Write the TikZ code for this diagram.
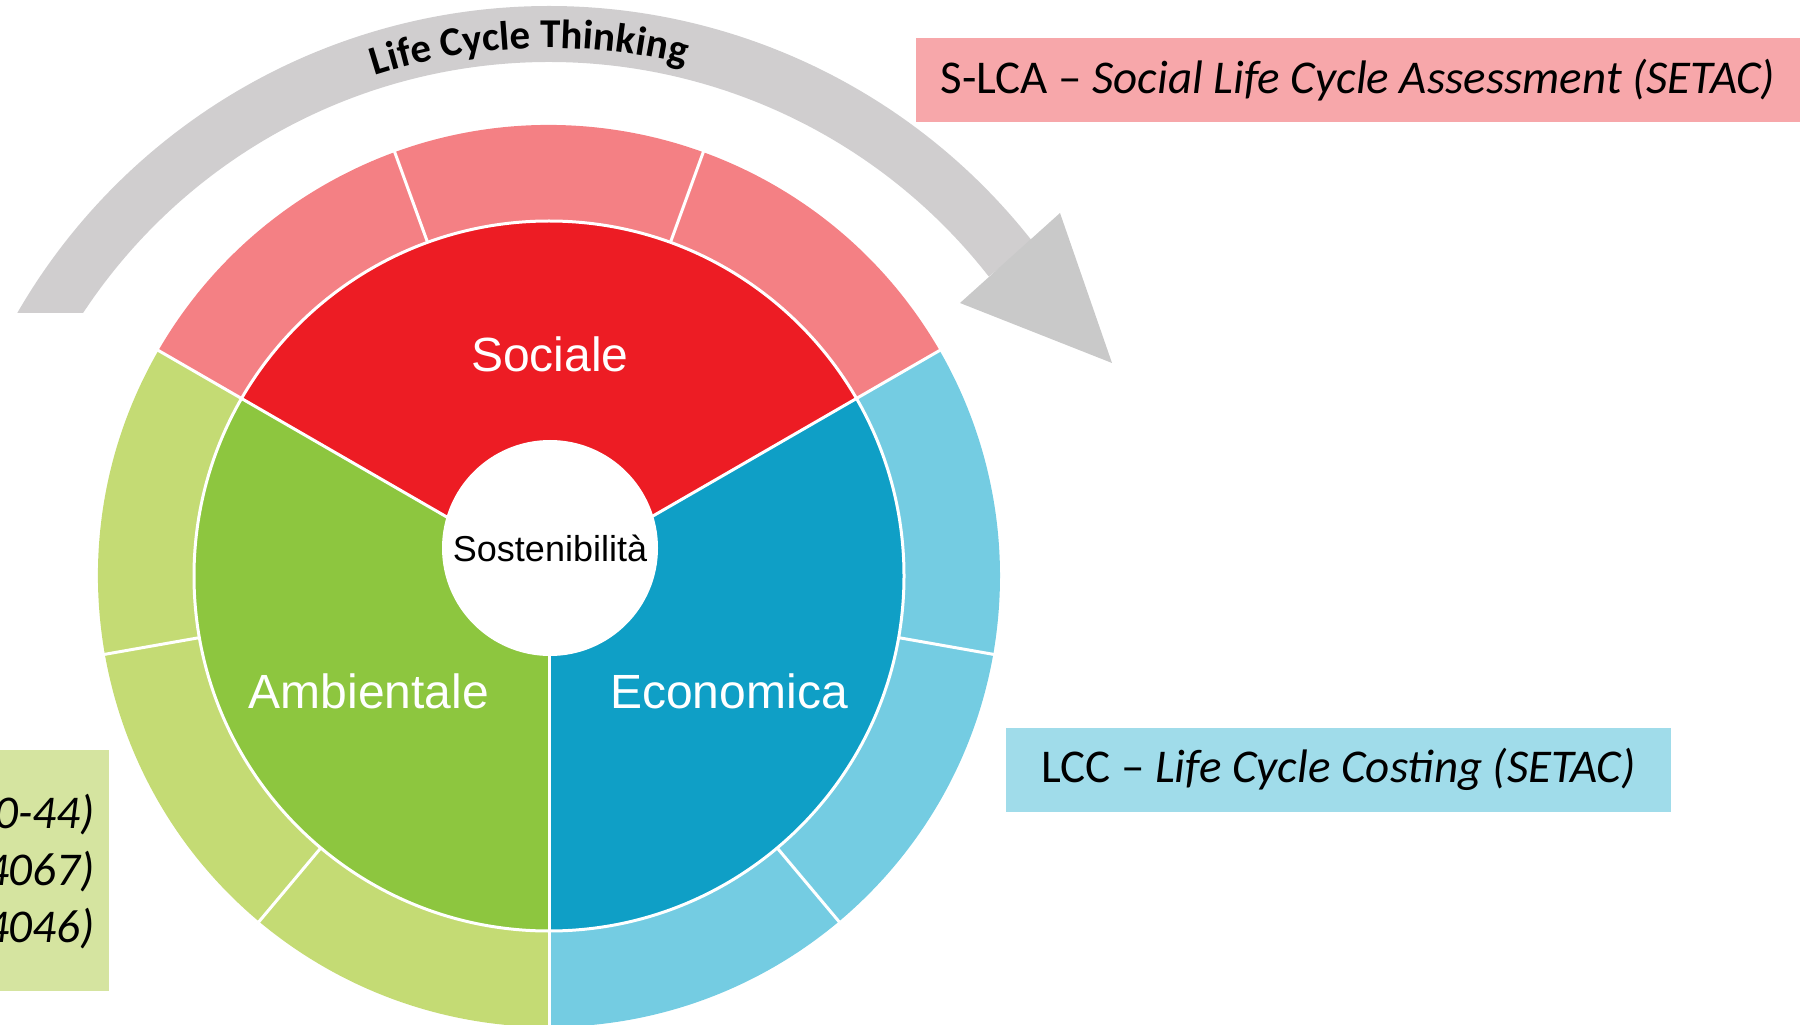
\documentclass[tikz,border=0pt]{standalone}
\usepackage{fontspec}
\newfontfamily\arialfont{Liberation Sans}
\newfontfamily\calibrifont{Carlito}
\usetikzlibrary{calc,decorations.text}
\definecolor{socred}{RGB}{237,28,36}
\definecolor{soclight}{RGB}{244,128,132}
\definecolor{ambgreen}{RGB}{141,198,63}
\definecolor{amblight}{RGB}{196,219,116}
\definecolor{ecoblue}{RGB}{15,159,198}
\definecolor{ecolight}{RGB}{116,204,226}
\definecolor{arcgray}{RGB}{208,206,207}
\definecolor{headgray}{RGB}{201,201,201}
\definecolor{slcafill}{RGB}{247,167,170}
\definecolor{lccfill}{RGB}{160,220,234}
\definecolor{lcafill}{RGB}{213,228,160}

\begin{document}
\begin{tikzpicture}[x=0.5pt,y=0.5pt, line cap=round, line join=round]

\tikzset{
  cut/.style={draw=white, line width=1.5pt, line cap=butt},
  dimlab/.style={font=\arialfont\fontsize{24}{28}\selectfont, text=white, inner sep=0pt},
  corelab/.style={font=\arialfont\fontsize{18}{22}\selectfont, text=black, inner sep=0pt},
  toolbox/.style={font=\calibrifont\fontsize{23.5}{28}\selectfont, inner sep=0pt, minimum height=42pt},
  lcaline/.style={font=\calibrifont\itshape\fontsize{23.5}{28}\selectfont, inner sep=0pt, anchor=base east},
}

\useasboundingbox (0,0) rectangle (1819,1024);

\coordinate (C) at (549,448);   % pie centre
\coordinate (S) at (550,476);   % white core
\coordinate (G) at (549,404);   % centre of the grey arc

% grey arc and arrow head
\fill[arcgray] ($(G)+(150:614)$) arc[start angle=150, end angle=38, radius=614]
  -- ++(218:56) arc[start angle=38, end angle=146.6, radius=558] -- cycle;
\coordinate (H1) at (1060,811);
\coordinate (H2) at (960,721);
\coordinate (H3) at (1112,661);
\fill[headgray] (H1) -- (H2) -- (H3) -- cycle;
\path[decorate, decoration={text along path, text align=center,
  text={|\calibrifont\bfseries\fontsize{20.5}{24}\selectfont|Life Cycle Thinking}}]
  ($(G)+(121:572)$) arc[start angle=121, end angle=63, radius=572];

% outer ring
\fill[soclight] (C) -- ++(30:451) arc[start angle=30, end angle=150, radius=451] -- cycle;
\fill[amblight] (C) -- ++(150:451) arc[start angle=150, end angle=270, radius=451] -- cycle;
\fill[ecolight] (C) -- ++(270:451) arc[start angle=270, end angle=390, radius=451] -- cycle;

% inner sectors
\fill[socred] (C) -- ++(30:355) arc[start angle=30, end angle=150, radius=355] -- cycle;
\fill[ambgreen] (C) -- ++(150:355) arc[start angle=150, end angle=270, radius=355] -- cycle;
\fill[ecoblue] (C) -- ++(270:355) arc[start angle=270, end angle=390, radius=355] -- cycle;

% white separators
\draw[cut] (C) circle[radius=355];
\draw[cut] (C) -- ++(30:455);
\draw[cut] (C) -- ++(150:455);
\draw[cut] (C) -- ++(270:455);
\draw[cut] ($(C)+(70:355)$) -- ++(70:100);
\draw[cut] ($(C)+(110:355)$) -- ++(110:100);
\draw[cut] ($(C)+(190:355)$) -- ++(190:100);
\draw[cut] ($(C)+(230:355)$) -- ++(230:100);
\draw[cut] ($(C)+(310:355)$) -- ++(310:100);
\draw[cut] ($(C)+(350:355)$) -- ++(350:100);

% core
\fill[white] (S) circle[radius=108];
\node[corelab] (core) at (S) {Sostenibilità};

% sector labels
\node[dimlab] (soc) at (550,670) {Sociale};
\node[dimlab] (amb) at (369,333) {Ambientale};
\node[dimlab] (eco) at (729,333) {Economica};

% method boxes
\node[toolbox, fill=slcafill, minimum width=442pt] (slca) at (1358,944)
  {S-LCA \textendash\ \itshape Social Life Cycle Assessment (SETAC)};
\node[toolbox, fill=lccfill, minimum width=332.5pt] (lcc) at (1338.5,254.5)
  {LCC \textendash\ \itshape Life Cycle Costing (SETAC)};

\fill[lcafill] (-10,33) rectangle (109,274);
\node[lcaline] (lcaa) at (95,196) {0-44)};
\node[lcaline] (lcab) at (95,139) {4067)};
\node[lcaline] (lcac) at (95,82) {4046)};

\end{tikzpicture}
\end{document}
